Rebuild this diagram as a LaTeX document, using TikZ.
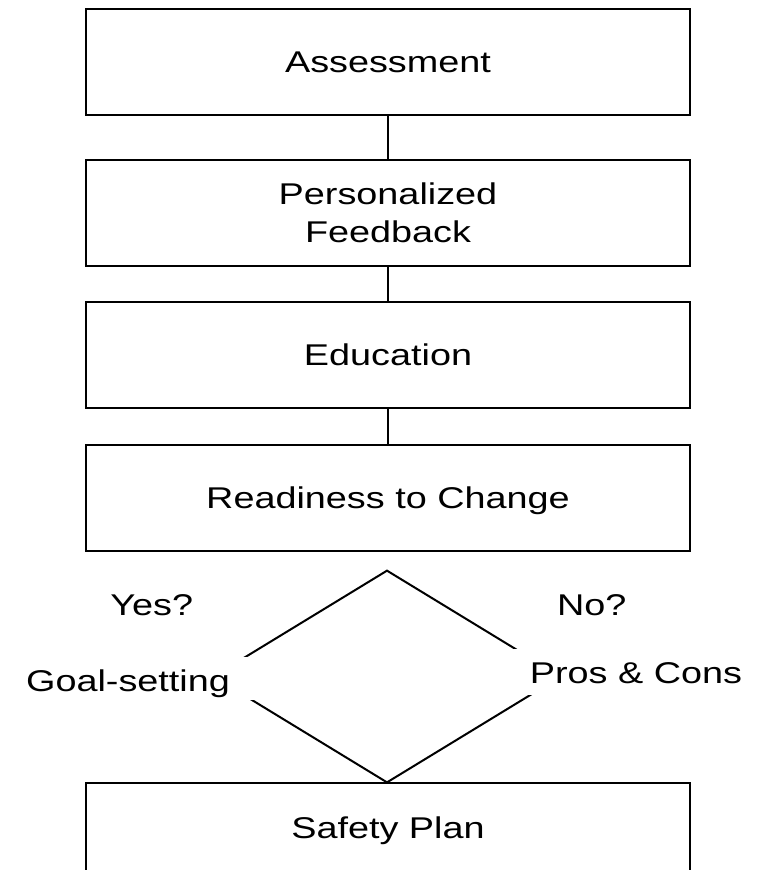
\documentclass[tikz,border=0pt]{standalone}
\usepackage{fontspec}
\setmainfont{Liberation Sans}[FakeStretch=1.26]
\usetikzlibrary{shapes.geometric}
\newcommand{\flowfont}{\fontsize{22.5pt}{28.8pt}\selectfont}
\begin{document}
\begin{tikzpicture}[x=0.75pt,y=-0.75pt,
  stage/.style={draw, line width=1.5pt, minimum width=453pt, minimum height=79.5pt,
    inner sep=0pt, text height=16.1pt, text depth=0pt, font=\flowfont},
  link/.style={line width=1.5pt},
  decision/.style={draw, diamond, line width=1.5pt, minimum width=261pt,
    minimum height=159.4pt, inner sep=0pt},
  answer/.style={anchor=base, inner sep=0pt, font=\flowfont},
  choice/.style={anchor=base, fill=white, inner ysep=0pt, font=\flowfont}]
  \clip (0,0) rectangle (769,870);

  % main sequence of stages
  \node[stage] (assess) at (388,62) {Assessment};
  \node[stage, text height=44.9pt] (feedback) at (388,213)
    {\begin{tabular}[b]{@{}c@{}}Personalized\\Feedback\end{tabular}};
  \node[stage] (educ) at (388,355) {Education};
  \node[stage] (ready) at (388,497.5) {Readiness to Change};
  \node[stage, minimum height=67.5pt] (safety) at (388,828) {Safety Plan};

  \draw[link] (assess) -- (feedback);
  \draw[link] (feedback) -- (educ);
  \draw[link] (educ) -- (ready);

  % decision on readiness
  \node[decision] (dec) at (387,676.5) {};

  \node[answer] (yes) at (151.7,615) {Yes?};
  \node[answer] (no) at (591.7,615) {No?};

  \node[choice, inner xsep=22.5pt, text height=25.8pt, text depth=6.2pt]
    (goal) at (128,691.7) {Goal-setting};
  \node[choice, inner xsep=15pt, text height=25.5pt, text depth=8.8pt]
    (pros) at (636,683.3) {Pros \& Cons};
\end{tikzpicture}
\end{document}
